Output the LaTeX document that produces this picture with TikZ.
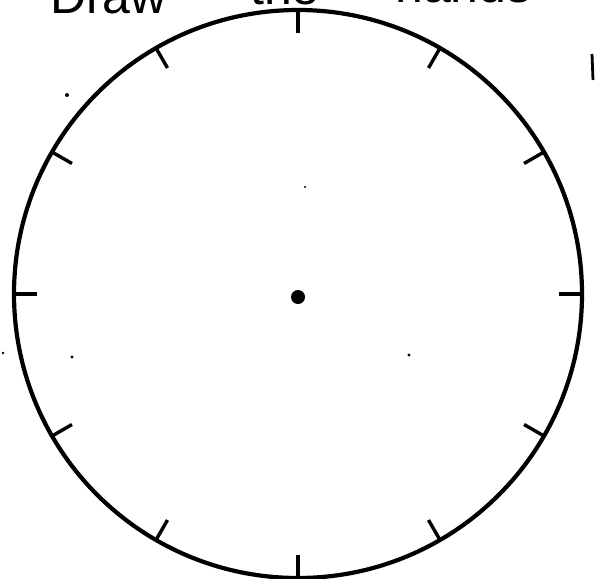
\documentclass[tikz,border=0pt]{standalone}
\usepackage{fontspec}
\setmainfont{Liberation Sans}
\usetikzlibrary{calc}
\begin{document}
\begin{tikzpicture}[x=1pt,y=-1pt,
  rim/.style={line width=4.2pt},
  tickmark/.style={line width=3.4pt},
  speck/.style={fill=black},
  word/.style={anchor=base west,inner sep=0pt,font=\fontsize{50}{60}\selectfont}]
\useasboundingbox (0,0) rectangle (596,578);
\coordinate (c) at (298,294);
\node[word] (w1) at (50,14) {Draw};
\node[word] (w2) at (250,5) {the};
\node[word] (w3) at (395,3) {hands};
\draw[rim] (c) circle[radius=284];
\foreach \k in {0,...,11}{
  \draw[tickmark] ($(c)+({284*cos(90-30*\k)},{-284*sin(90-30*\k)})$) -- ($(c)+({261*cos(90-30*\k)},{-261*sin(90-30*\k)})$);
}
\fill (298,297) circle[radius=7];
\draw[line width=2.8pt] (592,54) -- (593,80);
\fill[speck] (67,95) circle[radius=2];
\fill[speck] (409,355) circle[radius=1.6];
\fill[speck] (305,187) circle[radius=1.2];
\fill[speck] (72,357) circle[radius=1.6];
\fill[speck] (3,353) circle[radius=1.4];
\end{tikzpicture}
\end{document}
